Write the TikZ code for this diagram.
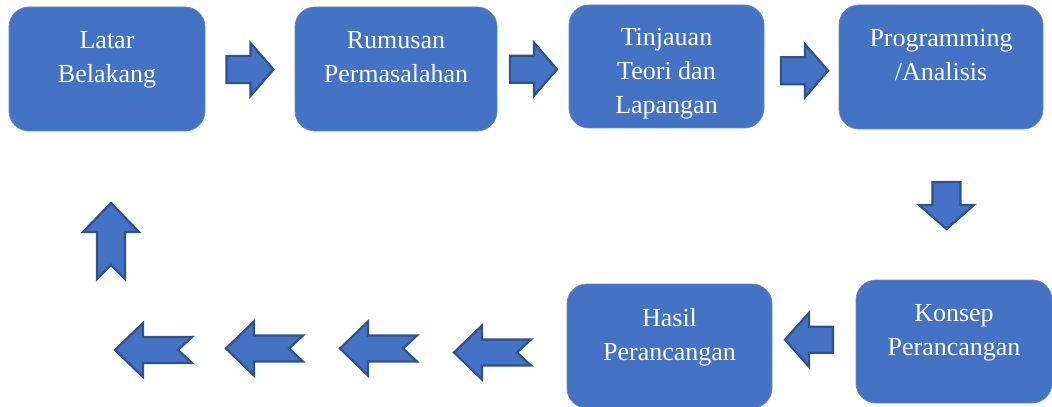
\documentclass[tikz,border=0pt]{standalone}
\usepackage{fontspec}
\setmainfont{Liberation Serif}
\usetikzlibrary{positioning,calc}
\definecolor{boxblue}{HTML}{4472C4}
\definecolor{edgeblue}{HTML}{2F528F}

\tikzset{
  tahap/.style={draw=boxblue!85!white, fill=boxblue, rounded corners=10pt, inner sep=0pt},
  teks/.style={text=white, inner sep=0pt, align=center, font=\fontsize{13}{17}\selectfont},
  panah/.style={draw=edgeblue, fill=boxblue, line width=1.1pt, line join=miter},
  pics/panahkanan/.style={code={
    \draw[panah] (-23.5,-13.5) -- (0.5,-13.5) -- (0.5,-26.5) -- (23.5,0) -- (0.5,26.5) -- (0.5,13.5) -- (-23.5,13.5) -- cycle;}},
  pics/panahbawah/.style={code={
    \draw[panah] (-14,-23.5) -- (14,-23.5) -- (14,-0.5) -- (27.5,-0.5) -- (0,23.5) -- (-27.5,-0.5) -- (-14,-0.5) -- cycle;}},
  pics/panahkiri/.style={code={
    \draw[panah] (24,-13) -- (0,-13) -- (0,-27) -- (-24,0) -- (0,27) -- (0,13) -- (24,13) -- cycle;}},
  pics/panahbalik/.style={code={
    \draw[panah] (0,-13) -- (-49,-13) -- (-49,-27) -- (-77,0) -- (-49,27) -- (-49,13) -- (0,13) -- (-14,0) -- cycle;}},
  pics/panahatas/.style={code={
    \draw[panah] (-14,0) -- (-14,-47) -- (-28,-47) -- (0,-76) -- (28,-47) -- (14,-47) -- (14,0) -- (0,-14) -- cycle;}}
}

\begin{document}
\begin{tikzpicture}[x=0.5pt,y=-0.5pt]
  \useasboundingbox (0,0) rectangle (1052,406);

  % kotak tahapan
  \node[tahap, minimum width=98pt, minimum height=62pt] (latar) at (107,69) {};
  \node[tahap, minimum width=101pt, minimum height=62pt] (rumusan) at (396,69) {};
  \node[tahap, minimum width=97.5pt, minimum height=61.5pt] (tinjauan) at (666.5,66.5) {};
  \node[tahap, minimum width=102pt, minimum height=62pt] (programming) at (941,67) {};
  \node[tahap, minimum width=98pt, minimum height=61.5pt] (konsep) at (954,341.5) {};
  \node[tahap, minimum width=102.5pt, minimum height=62pt] (hasil) at (669.5,346) {};

  \node[teks, below=12.25pt of latar.north] (latar-teks) {Latar\\Belakang};
  \node[teks, below=12.25pt of rumusan.north] (rumusan-teks) {Rumusan\\Permasalahan};
  \node[teks, below=11.5pt of tinjauan.north] (tinjauan-teks) {Tinjauan\\Teori dan\\Lapangan};
  \node[teks, below=12.25pt of programming.north] (programming-teks) {Programming\\/Analisis};
  \node[teks, below=12.25pt of konsep.north] (konsep-teks) {Konsep\\Perancangan};
  \node[teks, below=12pt of hasil.north] (hasil-teks) {Hasil\\Perancangan};

  % panah antar tahapan
  \pic at ($(latar.east)!.5!(rumusan.west)+(0,0.5)$) {panahkanan};
  \pic at ($(rumusan.east)!.5!(tinjauan.west)+(0.5,1.5)$) {panahkanan};
  \pic at ($(tinjauan.east)!.5!(programming.west)+(3,4)$) {panahkanan};
  \pic at ($(programming.south)!.5!(konsep.north)+(-1,1)$) {panahbawah};
  \pic at ($(hasil.east)!.5!(konsep.west)+(-5,-4)$) {panahkiri};

  % panah kembali
  \foreach \x/\y in {192/350, 303/348.5, 417/348.5, 531/352.5}
    \pic at (\x,\y) {panahbalik};
  \pic at (111,279) {panahatas};
\end{tikzpicture}
\end{document}
